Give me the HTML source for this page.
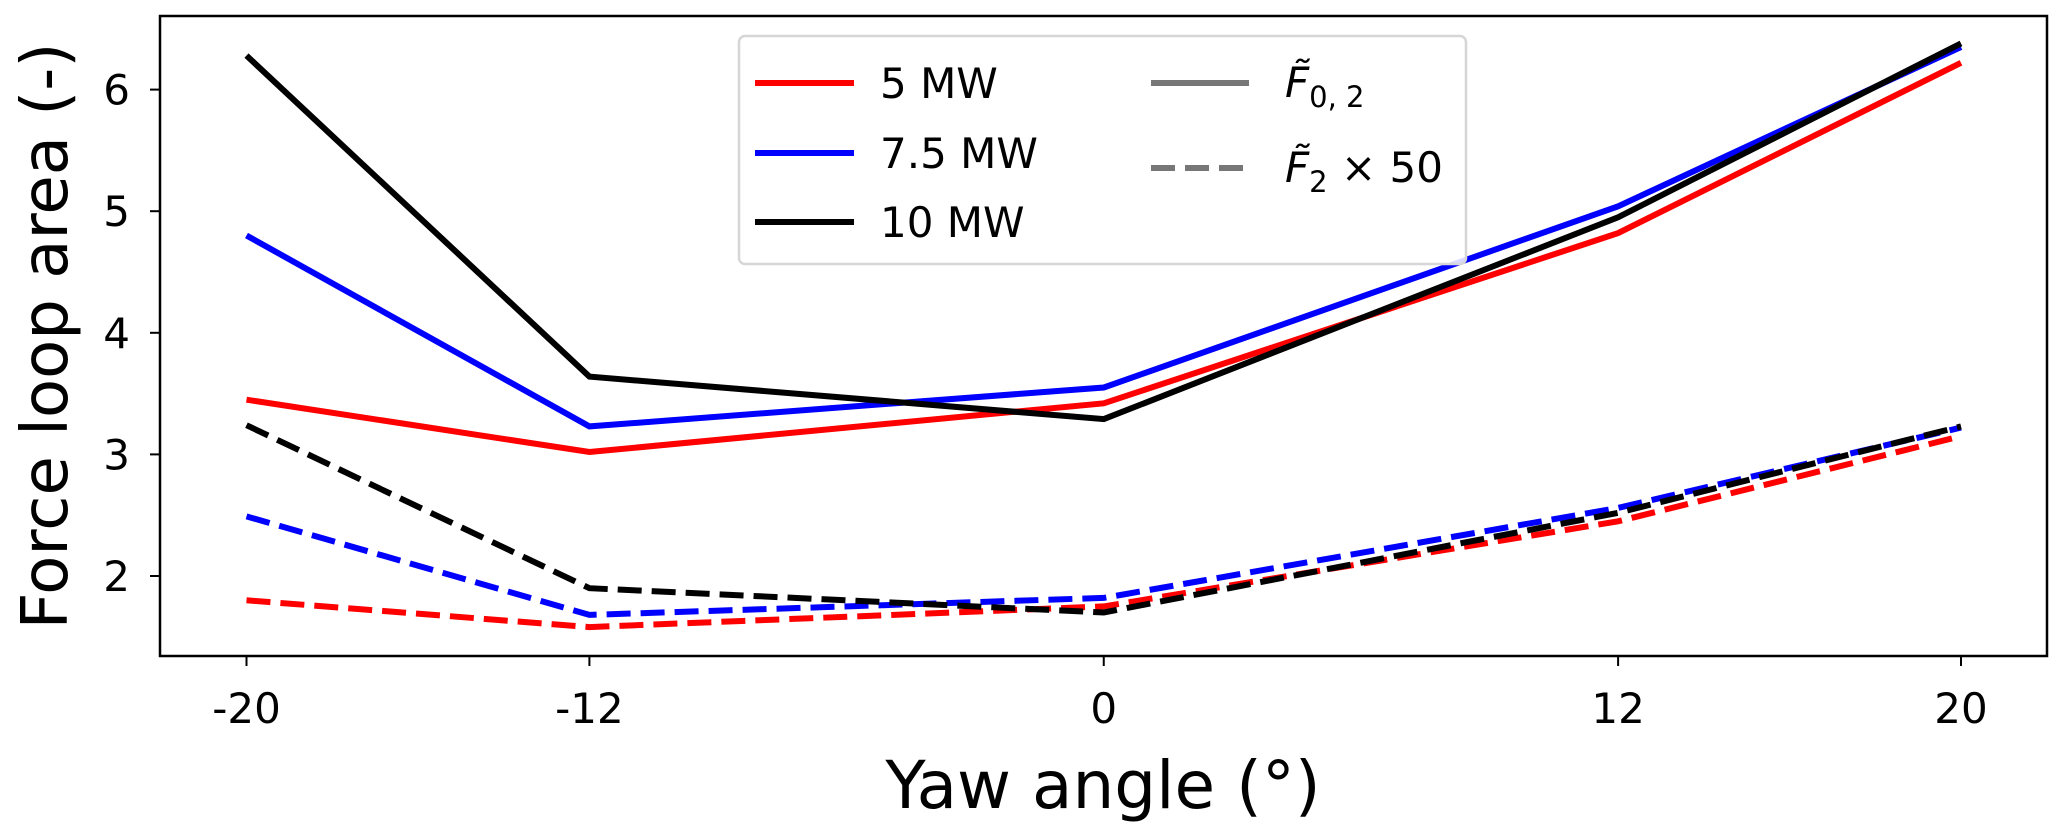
<!DOCTYPE html>
<html><head><meta charset="utf-8"><style>
html,body{margin:0;padding:0;background:#fff}
svg{display:block;font-family:"DejaVu Sans","Liberation Sans",sans-serif}
</style></head><body>
<svg id="chart" width="2067" height="827" xmlns="http://www.w3.org/2000/svg"></svg>
<script>
const categories=[-20,-12,0,12,20];
const red5Solid=[3.45,3.02,3.42,4.82,6.22];
const blue75Solid=[4.80,3.23,3.55,5.04,6.35];
const black10Solid=[6.28,3.64,3.29,4.95,6.38];
const red5Dashed=[1.80,1.58,1.75,2.45,3.15];
const blue75Dashed=[2.49,1.68,1.82,2.56,3.22];
const black10Dashed=[3.24,1.90,1.70,2.52,3.23];
const yTicks=[2,3,4,5,6];
const xTickLabels=["-20","-12","0","12","20"];

const NS="http://www.w3.org/2000/svg";
const svg=document.getElementById('chart');
const L=160,R=2047,T=16,B=656;
function xs(v){return 246.5+(v+20)*(1961-246.5)/40;}
function ys(v){return 576-(v-2)*(576-89.6)/4;}
function el(tag,attrs,parent){const e=document.createElementNS(NS,tag);for(const k in attrs)e.setAttribute(k,attrs[k]);(parent||svg).appendChild(e);return e;}

const series=[
 {d:red5Solid,c:"#ff0000",dash:null,n:"line-5mw-f02"},
 {d:blue75Solid,c:"#0000ff",dash:null,n:"line-7-5mw-f02"},
 {d:black10Solid,c:"#000000",dash:null,n:"line-10mw-f02"},
 {d:red5Dashed,c:"#ff0000",dash:"24 10",n:"line-5mw-f2x50"},
 {d:blue75Dashed,c:"#0000ff",dash:"24 10",n:"line-7-5mw-f2x50"},
 {d:black10Dashed,c:"#000000",dash:"24 10",n:"line-10mw-f2x50"}
];
series.forEach(s=>{
 const pts=s.d.map((v,i)=>xs(categories[i]).toFixed(1)+","+ys(v).toFixed(1)).join(" ");
 const p=el('polyline',{points:pts,fill:"none",stroke:s.c,"stroke-width":6});
 if(s.dash)p.setAttribute('stroke-dasharray',s.dash);
 
 
});

const frame=el('rect',{x:L,y:T,width:R-L,height:B-T,fill:"none",stroke:"#000","stroke-width":2.5});



categories.forEach((c,i)=>{
 const x=xs(c);
 el('line',{x1:x,x2:x,y1:B,y2:B+10,stroke:"#000","stroke-width":2});
 const t=el('text',{x:x,y:723,"text-anchor":"middle","font-size":42,fill:"#000"});
 t.textContent=xTickLabels[i];
 
 
});
yTicks.forEach(v=>{
 const y=ys(v);
 el('line',{x1:L-10,x2:L,y1:y,y2:y,stroke:"#000","stroke-width":2});
 const t=el('text',{x:130,y:y+15,"text-anchor":"end","font-size":42,fill:"#000"});
 t.textContent=String(v);
 
 
});

const xl=el('text',{x:1103,y:808,"text-anchor":"middle","font-size":66,fill:"#000"});
xl.textContent="Yaw angle (°)";


const yl=el('text',{x:0,y:0,"text-anchor":"middle","font-size":64,fill:"#000",transform:"translate(67,336) rotate(-90)"});
yl.textContent="Force loop area (-)";



const lg=el('g',{});


el('rect',{x:739,y:36,width:727,height:228,rx:6,fill:"#fff","fill-opacity":0.85,stroke:"#d6d6d6","stroke-width":2.5},lg);
const entries=[
 {x:755,y:83,c:"#ff0000",t:"5 MW",n:"legend-entry-5mw"},
 {x:755,y:153,c:"#0000ff",t:"7.5 MW",n:"legend-entry-7-5mw"},
 {x:755,y:222,c:"#000000",t:"10 MW",n:"legend-entry-10mw"},
];
entries.forEach(e=>{
 const g=el('g',{},lg);
 
 
 el('line',{x1:e.x,x2:e.x+99,y1:e.y,y2:e.y,stroke:e.c,"stroke-width":6},g);
 const t=el('text',{x:880,y:e.y+15,"font-size":42,fill:"#000"},g);
 t.textContent=e.t;
});
const g1=el('g',{},lg);


el('line',{x1:1151,x2:1249,y1:83,y2:83,stroke:"#777","stroke-width":6},g1);
const t1=el('text',{x:1285,y:97,"font-size":42,fill:"#000","font-style":"italic"},g1);
t1.innerHTML='F̃<tspan font-size="29" dy="10" font-style="normal">0, 2</tspan>';
const g2=el('g',{},lg);


el('line',{x1:1151,x2:1249,y1:168,y2:168,stroke:"#777","stroke-width":6,"stroke-dasharray":"24 10"},g2);
const t2=el('text',{x:1285,y:182,"font-size":42,fill:"#000"},g2);
t2.innerHTML='<tspan font-style="italic">F̃</tspan><tspan font-size="29" dy="10">2</tspan><tspan dy="-10"> × 50</tspan>';
</script>
</body></html>
